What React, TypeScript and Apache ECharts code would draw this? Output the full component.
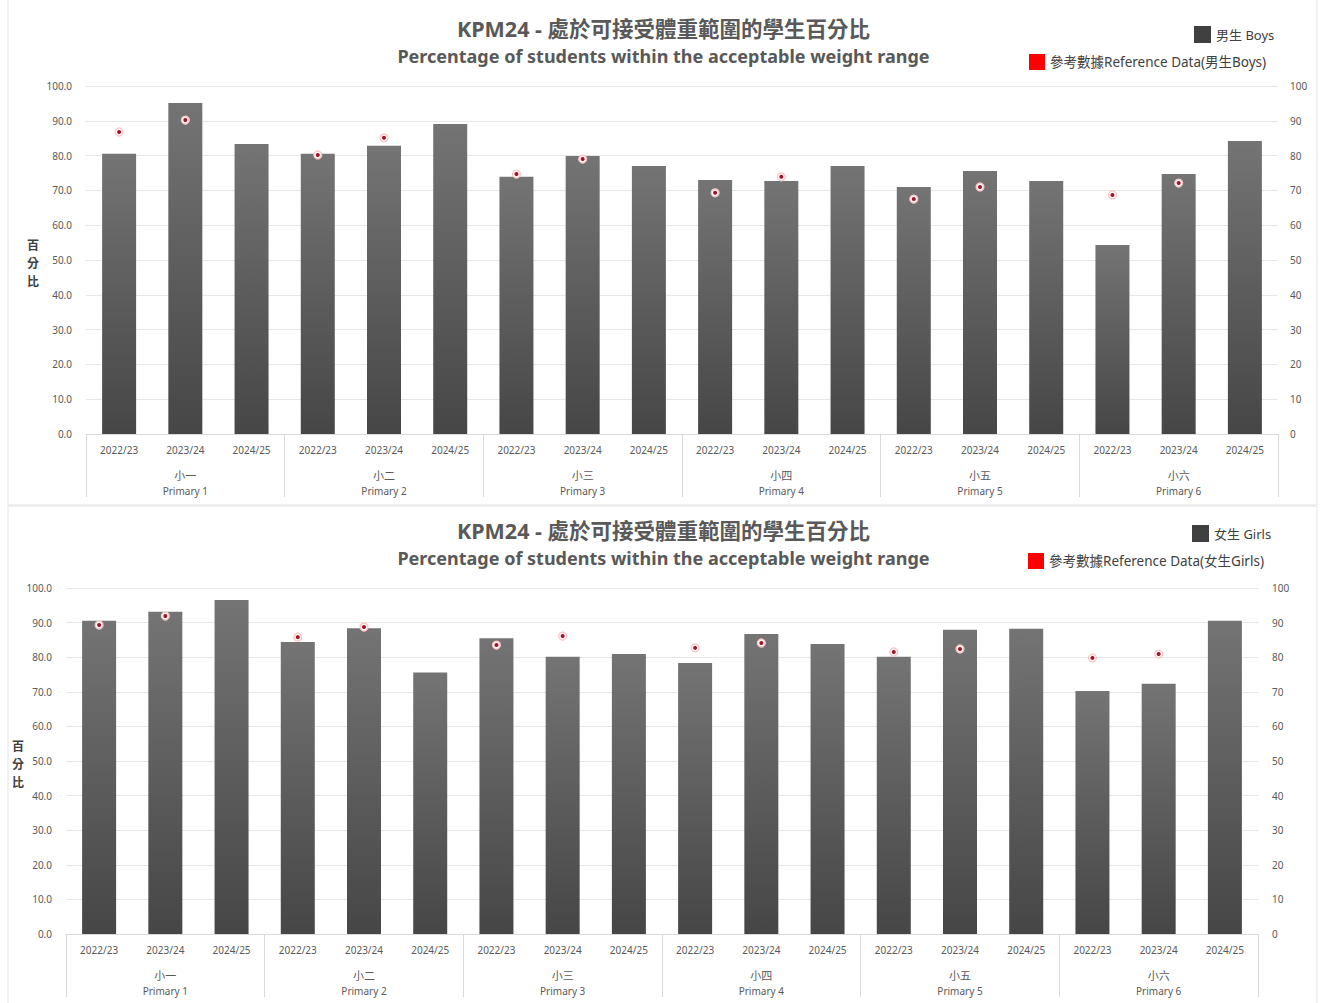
import React, { useEffect, useRef } from "react";
import * as echarts from "echarts";

const years = ["2022/23", "2023/24", "2024/25"];
const groupsZh = ["小一", "小二", "小三", "小四", "小五", "小六"];
const groupsEn = ["Primary 1", "Primary 2", "Primary 3", "Primary 4", "Primary 5", "Primary 6"];

const boys = [80.5, 95.1, 83.3, 80.5, 82.8, 89.1, 73.9, 79.9, 77.0, 73.0, 72.7, 77.0, 71.0, 75.6, 72.7, 54.3, 74.7, 84.2];
const boysRef = [86.8, 90.2, null, 80.2, 85.1, null, 74.7, 79.0, null, 69.3, 73.9, null, 67.5, 71.0, null, 68.7, 72.1, null];
const girls = [90.5, 93.1, 96.5, 84.4, 88.4, 75.6, 85.5, 80.1, 80.9, 78.3, 86.7, 83.8, 80.1, 87.9, 88.2, 70.2, 72.3, 90.5];
const girlsRef = [89.3, 91.9, null, 85.8, 88.7, null, 83.5, 86.1, null, 82.7, 84.1, null, 81.5, 82.4, null, 79.8, 80.9, null];

const titleZh = "KPM24 - 處於可接受體重範圍的學生百分比";
const titleEn = "Percentage of students within the acceptable weight range";
const boysName = "男生 Boys";
const boysRefName = "參考數據Reference Data(男生Boys)";
const girlsName = "女生 Girls";
const girlsRefName = "參考數據Reference Data(女生Girls)";
const yName = "百\n分\n比";

const FONT = "'Noto Sans', 'Noto Sans CJK TC', sans-serif";
const TXT = "#595959";

export default function App() {
  const ref = useRef<HTMLDivElement>(null);
  useEffect(() => {
    if (!ref.current) return;
    const chart = echarts.init(ref.current, null, { renderer: "svg" });
    const cats: string[] = [];
    groupsZh.forEach(() => years.forEach((y) => cats.push(y)));
    const groupCats = groupsZh.map((g, i) => g + "\n" + groupsEn[i]);

    const panels = [
      { grid: { left: 86, right: 49, top: 86, height: 348 }, bars: boys, refs: boysRef, name: boysName, refName: boysRefName, titleTop: 13, legendTop: 21, legendLeft: 1189, refLegendTop: 49, refLegendLeft: 1024, rightMargin: 12, yNameX: 33, yNameY: 262 },
      { grid: { left: 66, right: 69, top: 588, height: 346 }, bars: girls, refs: girlsRef, name: girlsName, refName: girlsRefName, titleTop: 515, legendTop: 520, legendLeft: 1187, refLegendTop: 548, refLegendLeft: 1023, rightMargin: 14, yNameX: 18, yNameY: 763 },
    ];

    const grid: any[] = [];
    const xAxis: any[] = [];
    const yAxis: any[] = [];
    const series: any[] = [];
    const title: any[] = [];
    const legend: any[] = [];
    const graphic: any[] = [
      { type: "rect", shape: { x: 8, y: -2, width: 1309, height: 507 }, style: { fill: "none", stroke: "#e3e3e3", lineWidth: 1 }, silent: true },
      { type: "rect", shape: { x: 8, y: 506, width: 1309, height: 500 }, style: { fill: "none", stroke: "#e3e3e3", lineWidth: 1 }, silent: true },
    ];

    panels.forEach((p, gi) => {
      grid.push(p.grid);
      xAxis.push({
        type: "category",
        gridIndex: gi,
        data: cats,
        axisLine: { lineStyle: { color: "#d9d9d9" } },
        axisTick: { show: false },
        axisLabel: { interval: 0, color: TXT, fontSize: 10, margin: 11, fontFamily: FONT },
      });
      xAxis.push({
        type: "category",
        gridIndex: gi,
        position: "bottom",
        data: groupCats,
        axisLine: { show: false },
        axisTick: { show: true, length: 63, interval: 0, lineStyle: { color: "#d9d9d9" } },
        axisLabel: {
          interval: 0,
          margin: 33,
          color: TXT,
          fontFamily: FONT,
          formatter: (v: string) => {
            const [a, b] = v.split("\n");
            return "{zh|" + a + "}\n{en|" + b + "}";
          },
          rich: {
            zh: { fontSize: 11, color: TXT, lineHeight: 16, fontFamily: FONT },
            en: { fontSize: 10, color: TXT, lineHeight: 16, fontFamily: FONT },
          },
        },
      });
      yAxis.push({
        type: "value",
        gridIndex: gi,
        min: 0,
        max: 100,
        interval: 10,
        axisLine: { show: false },
        axisTick: { show: false },
        splitLine: { lineStyle: { color: "#e6e6e6" } },
        axisLabel: { color: TXT, fontSize: 10, margin: 14, fontFamily: FONT, formatter: (v: number) => v.toFixed(1) },
      });
      yAxis.push({
        type: "value",
        gridIndex: gi,
        position: "right",
        min: 0,
        max: 100,
        interval: 10,
        axisLine: { show: false },
        axisTick: { show: false },
        splitLine: { show: false },
        axisLabel: { color: TXT, fontSize: 10, margin: p.rightMargin, fontFamily: FONT, formatter: (v: number) => String(v) },
      });
      series.push({
        type: "bar",
        name: p.name,
        xAxisIndex: gi * 2,
        yAxisIndex: gi * 2,
        data: p.bars,
        barWidth: 34,
        itemStyle: {
          color: new echarts.graphic.LinearGradient(0, 0, 0, 1, [
            { offset: 0, color: "#747474" },
            { offset: 1, color: "#464646" },
          ]),
        },
      });
      series.push({
        type: "scatter",
        name: p.refName,
        xAxisIndex: gi * 2,
        yAxisIndex: gi * 2,
        data: p.refs,
        symbol: "circle",
        symbolSize: 8,
        itemStyle: { color: "#fff6f6", borderColor: "#ffc4c4", borderWidth: 1.2, opacity: 1 },
        z: 3,
      });
      series.push({
        type: "scatter",
        name: p.refName + " ",
        xAxisIndex: gi * 2,
        yAxisIndex: gi * 2,
        data: p.refs,
        symbol: "circle",
        symbolSize: 4,
        itemStyle: { color: "#a3122a", opacity: 1 },
        z: 4,
      });
      title.push({
        text: titleZh,
        left: "center",
        top: p.titleTop,
        textStyle: { fontSize: 21.5, fontWeight: "bold", color: TXT, fontFamily: FONT },
      });
      title.push({
        text: titleEn,
        left: "center",
        top: p.titleTop + 29,
        textStyle: { fontSize: 18, fontWeight: "bold", color: TXT, fontFamily: FONT },
      });
      legend.push({
        left: p.legendLeft,
        top: p.legendTop,
        itemWidth: 17,
        itemHeight: 17,
        itemGap: 6,
        selectedMode: false,
        textStyle: { fontSize: 13, color: "#404040", fontFamily: FONT },
        data: [{ name: p.name, icon: "rect", itemStyle: { color: "#404040" } }],
      });
      legend.push({
        left: p.refLegendLeft,
        top: p.refLegendTop,
        itemWidth: 16,
        itemHeight: 16,
        selectedMode: false,
        textStyle: { fontSize: 13.5, color: "#404040", fontFamily: FONT },
        data: [{ name: p.refName, icon: "rect", itemStyle: { color: "#ff0000", borderWidth: 0 } }],
      });
      graphic.push({
        type: "text",
        x: p.yNameX,
        y: p.yNameY,
        style: { text: yName, fill: "#404040", font: "bold 12px 'Noto Sans CJK TC'", align: "center", verticalAlign: "middle", lineHeight: 18 },
        silent: true,
      });
    });

    chart.setOption({
      animation: false,
      backgroundColor: "#ffffff",
      textStyle: { fontFamily: FONT },
      title,
      legend,
      grid,
      xAxis,
      yAxis,
      series,
      graphic,
    });
    return () => chart.dispose();
  }, []);
  return <div ref={ref} style={{ position: "absolute", left: 0, top: 0, width: 1327, height: 1003 }} />;
}
